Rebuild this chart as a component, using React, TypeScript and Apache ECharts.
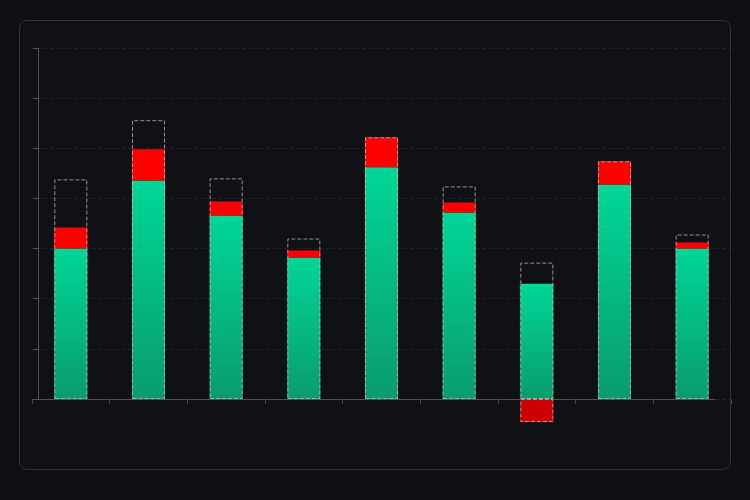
import React, { useEffect, useRef } from "react";
import * as echarts from "echarts";

const categories = ["1", "2", "3", "4", "5", "6", "7", "8", "9"];
const baseValues = [3.0, 4.36, 3.66, 2.82, 4.62, 3.72, 2.3, 4.28, 3.0];
const deltaValues = [0.42, 0.62, 0.28, 0.14, 0.6, 0.2, -0.46, 0.46, 0.12];
const targetValues = [4.38, 5.56, 4.4, 3.2, 5.22, 4.24, 2.72, 4.74, 3.28];
const yTicks = { min: 0, max: 7, interval: 1 };

export default function App() {
  const ref = useRef<HTMLDivElement>(null);
  useEffect(() => {
    document.body.style.margin = "0";
    document.body.style.background = "#0d0f13";
    if (!ref.current) return;
    const chart = echarts.init(ref.current, null, { renderer: "svg" });
    const dashStyle = {
      color: "rgba(0,0,0,0)",
      borderColor: "rgba(200,200,205,0.7)",
      borderType: "dashed" as const,
      borderWidth: 1,
    };
    const negDash = deltaValues.map((v) => (v < 0 ? v : "-"));
    chart.setOption({
      animation: false,
      backgroundColor: "transparent",
      grid: [
        { left: 32, right: 19, top: 48, bottom: 101 },
        { left: 33, right: 35, top: 48, bottom: 101 },
      ],
      xAxis: [
        {
          type: "category",
          data: categories,
          gridIndex: 0,
          axisLine: { show: false },
          axisTick: { show: true, length: 5, lineStyle: { color: "#474a50" } },
          axisLabel: { show: false },
        },
        {
          type: "value",
          gridIndex: 1,
          min: 0,
          max: 1,
          axisLine: { show: true, onZero: false, lineStyle: { color: "#50535a" } },
          axisTick: { show: false },
          axisLabel: { show: false },
          splitLine: { show: false },
        },
      ],
      yAxis: [
        {
          type: "value",
          gridIndex: 0,
          min: yTicks.min,
          max: yTicks.max,
          interval: yTicks.interval,
          offset: -6,
          axisLine: { show: true, lineStyle: { color: "#50535a" } },
          axisTick: { show: true, length: 5, lineStyle: { color: "#50535a" } },
          axisLabel: { show: false },
          splitLine: { show: true, lineStyle: { color: "#1e2126", type: "dashed" } },
        },
        { type: "value", gridIndex: 1, show: false, min: 0, max: 1, splitLine: { show: false } },
      ],
      series: [
        {
          type: "bar",
          stack: "a",
          barWidth: 33,
          barGap: "-100%",
          clip: false,
          data: baseValues,
          itemStyle: {
            color: new echarts.graphic.LinearGradient(0, 0, 0, 1, [
              { offset: 0, color: "#00d697" },
              { offset: 1, color: "#0a9c6d" },
            ]),
          },
        },
        {
          type: "bar",
          stack: "a",
          barWidth: 33,
          barGap: "-100%",
          clip: false,
          data: deltaValues.map((v) => ({
            value: v,
            itemStyle: { color: v < 0 ? "#cc0000" : "#ff0000" },
          })),
        },
        {
          type: "bar",
          stack: "b",
          barWidth: 33,
          barGap: "-100%",
          clip: false,
          z: 5,
          data: targetValues,
          itemStyle: dashStyle,
        },
        {
          type: "bar",
          stack: "b",
          barWidth: 33,
          barGap: "-100%",
          clip: false,
          z: 5,
          data: negDash,
          itemStyle: dashStyle,
        },
      ],
    });
    return () => chart.dispose();
  }, []);
  return (
    <div style={{ position: "relative", width: 750, height: 500, background: "#0d0f13" }}>
      <div
        style={{
          position: "absolute",
          left: 19,
          top: 20,
          width: 710,
          height: 448,
          border: "1px solid #2e3137",
          borderRadius: 8,
          background: "#0f1115",
        }}
      />
      <div ref={ref} style={{ position: "absolute", left: 0, top: 0, width: 750, height: 500 }} />
    </div>
  );
}
